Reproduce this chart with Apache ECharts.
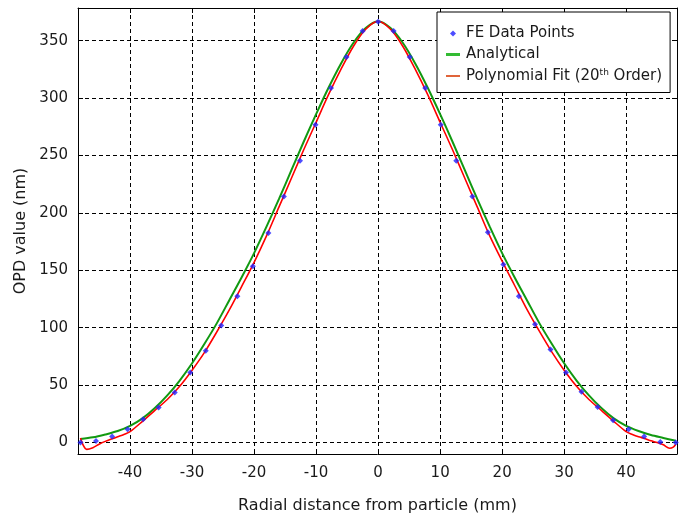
<!DOCTYPE html>
<html>
<head>
<meta charset="utf-8">
<script src="https://cdn.jsdelivr.net/npm/echarts@6/dist/echarts.min.js"></script>
<style>
html,body{margin:0;padding:0;background:#fff;}
#chart{width:688px;height:519px;}
</style>
</head>
<body>
<div id="chart"></div>
<script>
// Tick labels
var xTicks = [-40, -30, -20, -10, 0, 10, 20, 30, 40];
var yTicks = [0, 50, 100, 150, 200, 250, 300, 350];

// FE Data Points
var feX = [-48, -45.5, -42.9, -40.4, -37.9, -35.4, -32.8, -30.3, -27.8, -25.3, -22.7, -20.2, -17.7, -15.2, -12.6, -10.1, -7.6, -5.1, -2.5, 0,
           2.5, 5.1, 7.6, 10.1, 12.6, 15.2, 17.7, 20.2, 22.7, 25.3, 27.8, 30.3, 32.8, 35.4, 37.9, 40.4, 42.9, 45.5, 48];
var feY = [0, 1.4, 5.2, 11.6, 20.3, 30.4, 43.5, 60.9, 80, 102, 127.4, 153.5, 182.6, 214.4, 245.4, 276.7, 308.9, 335.8, 358.4, 366.5,
           358.4, 335.8, 308.9, 276.7, 245.4, 214.4, 183.1, 155, 127.4, 103, 81, 60.9, 44.3, 31, 19.4, 11.6, 5.2, 0.5, 0];

// Analytical
var anX = [-48, -46, -44, -42, -40, -38, -36, -34, -32, -30, -28, -26, -24, -22, -20, -18, -16, -14, -12, -10, -8, -6, -4, -2, 0,
           2, 4, 6, 8, 10, 12, 14, 16, 18, 20, 22, 24, 26, 28, 30, 32, 34, 36, 38, 40, 42, 44, 46, 48];
var anY = [3, 4.5, 7, 10, 14.5, 21, 30, 41, 54, 69, 86, 104, 124, 144, 165, 188, 212, 237, 262, 286, 309, 330, 348, 361, 367,
           361, 348, 330, 309, 286, 262, 237, 212, 188, 165, 144, 124, 104, 86, 69, 54, 41, 30, 21, 14.5, 10, 6.5, 4, 1.5];

// Polynomial Fit (20th Order)
var pfX = [-48, -47.5, -47, -46, -45, -44, -43, -42, -41, -40, -38, -36, -34, -32, -30, -28, -26, -24, -22, -20, -18, -16, -14, -12, -10, -8, -6, -4, -2, 0,
           2, 4, 6, 8, 10, 12, 14, 16, 18, 20, 22, 24, 26, 28, 30, 32, 34, 36, 38, 40, 41, 42, 43, 44, 45, 46, 47, 47.6, 48];
var pfY = [4, -3, -6, -4.5, -1.5, 1, 3, 5, 7, 9.5, 18.5, 28, 37.5, 49, 63, 78.5, 96.5, 115.5, 136, 157, 180, 205, 230, 255, 279, 303, 325, 345, 360, 367,
           360, 345, 325, 303, 279, 255, 230, 205, 180, 158, 137, 116, 97, 79, 63, 49, 37.5, 28, 18.5, 9.5, 7, 5, 3.5, 1.5, 0, -2, -5, -4, -1.5];

function pairs(xs, ys) { return xs.map(function (x, i) { return [x, ys[i]]; }); }

var FONT = 'DejaVu Sans';
var TXT = '#1a1a1a';
var xMin = -48.4, xMax = 48.2, yMin = -10, yMax = 378.5;

var chart = echarts.init(document.getElementById('chart'), null, {renderer: 'canvas'});

var dash = {color: '#000', width: 1, type: [4, 3]};
var option = {
  animation: false,
  backgroundColor: '#fff',
  grid: {left: 78, right: 11, top: 8, bottom: 64, show: false},
  xAxis: [{
    type: 'value', position: 'bottom', min: xMin, max: xMax,
    axisLine: {show: true, onZero: false, lineStyle: {color: '#000', width: 1}},
    axisTick: {show: true, inside: true, length: 5, customValues: xTicks, lineStyle: {color: '#000'}},
    axisLabel: {show: true, customValues: xTicks, margin: 12, color: TXT, fontFamily: FONT, fontSize: 15},
    splitLine: {show: true, lineStyle: dash},
    name: 'Radial distance from particle (mm)', nameLocation: 'middle', nameGap: 44,
    nameTextStyle: {color: TXT, fontFamily: FONT, fontSize: 16}
  }, {
    type: 'value', position: 'top', min: xMin, max: xMax,
    axisLine: {show: true, onZero: false, lineStyle: {color: '#000', width: 1}},
    axisTick: {show: true, inside: true, length: 5, customValues: xTicks, lineStyle: {color: '#000'}},
    axisLabel: {show: false}, splitLine: {show: false}
  }],
  yAxis: [{
    type: 'value', position: 'left', min: yMin, max: yMax,
    axisLine: {show: true, onZero: false, lineStyle: {color: '#000', width: 1}},
    axisTick: {show: true, inside: true, length: 5, customValues: yTicks, lineStyle: {color: '#000'}},
    axisLabel: {show: true, customValues: yTicks, margin: 10, color: TXT, fontFamily: FONT, fontSize: 15},
    splitLine: {show: true, lineStyle: dash},
    name: 'OPD value (nm)', nameLocation: 'middle', nameGap: 45, nameRotate: 90,
    nameTextStyle: {color: TXT, fontFamily: FONT, fontSize: 16}
  }, {
    type: 'value', position: 'right', min: yMin, max: yMax,
    axisLine: {show: true, onZero: false, lineStyle: {color: '#000', width: 1}},
    axisTick: {show: true, inside: true, length: 5, customValues: yTicks, lineStyle: {color: '#000'}},
    axisLabel: {show: false}, splitLine: {show: false}
  }],
  legend: {
    left: 437, top: 12, orient: 'vertical',
    backgroundColor: '#fff', borderColor: '#000', borderWidth: 1,
    padding: [14, 8, 9, 8], itemGap: 6, itemWidth: 16, itemHeight: 14,
    textStyle: {color: TXT, fontFamily: FONT, fontSize: 15,
      rich: {sup: {fontSize: 9, fontFamily: FONT, color: TXT, padding: [0, 0, 7, 0]}}},
    formatter: function (name) {
      if (name.indexOf('Polynomial') === 0) return 'Polynomial Fit (20{sup|th} Order)';
      return name;
    },
    data: [
      {name: 'FE Data Points', icon: 'path://M0,0 M14,14 M7,4 L10,7 L7,10 L4,7 Z', itemStyle: {color: '#2020ff'}},
      {name: 'Analytical', icon: 'path://M0,0 M16,14 M1,5.5 L15,5.5 L15,8.5 L1,8.5 Z', itemStyle: {color: '#33bb33'}},
      {name: 'Polynomial Fit (20th Order)', icon: 'path://M0,0 M16,14 M1,6 L15,6 L15,8 L1,8 Z', itemStyle: {color: '#e0643a'}}
    ]
  },
  series: [{
    name: 'Analytical', type: 'line', data: pairs(anX, anY), smooth: 0.3,
    symbol: 'none', lineStyle: {color: '#119911', width: 2}, itemStyle: {color: '#119911'}, z: 2
  }, {
    name: 'Polynomial Fit (20th Order)', type: 'line', data: pairs(pfX, pfY), smooth: 0.3,
    symbol: 'none', lineStyle: {color: '#ff0000', width: 1.6}, itemStyle: {color: '#ff0000'}, z: 3
  }, {
    name: 'FE Data Points', type: 'scatter', data: pairs(feX, feY),
    symbol: 'diamond', symbolSize: 6, itemStyle: {color: '#2020ff'}, z: 4
  }]
};
chart.setOption(option);
</script>
</body>
</html>
